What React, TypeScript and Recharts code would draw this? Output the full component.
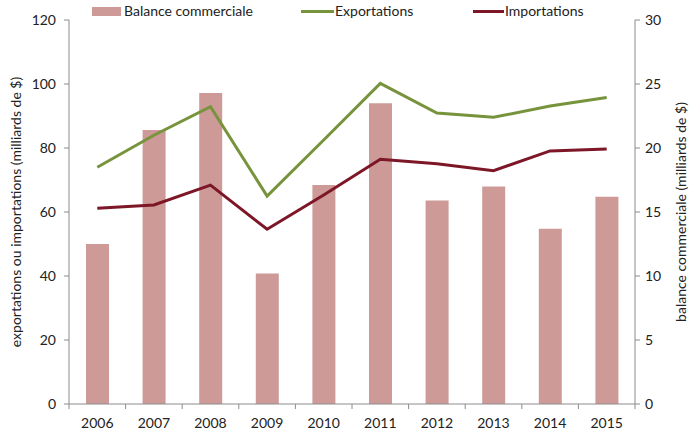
import React from 'react'
import { ComposedChart, Bar, Line, XAxis, YAxis, Legend } from 'recharts'

const years = ['2006', '2007', '2008', '2009', '2010', '2011', '2012', '2013', '2014', '2015']
const balance = [12.5, 21.4, 24.3, 10.2, 17.1, 23.5, 15.9, 17.0, 13.7, 16.2]
const exportations = [74.0, 84.0, 92.9, 65.0, 82.5, 100.2, 90.9, 89.6, 93.1, 95.8]
const importations = [61.2, 62.2, 68.4, 54.6, 65.3, 76.5, 75.1, 72.9, 79.1, 79.7]
const leftTicks = [0, 20, 40, 60, 80, 100, 120]
const rightTicks = [0, 5, 10, 15, 20, 25, 30]

const data = years.map((year, i) => ({
  year,
  balance: balance[i],
  exportations: exportations[i],
  importations: importations[i],
}))

const W = 698
const H = 434
const LEFT_W = 69
const RIGHT_W = 63
const BAND = (W - LEFT_W - RIGHT_W) / years.length

const FONT = 'Lato, "Open Sans", sans-serif'
const AXIS = '#8c8c8c'
const BAR = '#cd9a98'
const GREEN = '#77933c'
const RED = '#7d1727'

const YearTick = (props: any) => {
  const { x, y, payload, index } = props
  const left = x - BAND / 2
  return (
    <g>
      <line x1={left} y1={y} x2={left} y2={y + 5} stroke={AXIS} />
      {index === years.length - 1 && (
        <line x1={left + BAND} y1={y} x2={left + BAND} y2={y + 5} stroke={AXIS} />
      )}
      <text x={x} y={y + 24} textAnchor="middle" fontSize={14} fill="#222" fontFamily={FONT}>
        {payload.value}
      </text>
    </g>
  )
}

const LegendBox = () => (
  <div style={{ position: 'relative', width: W, height: 22, fontFamily: FONT, fontSize: 14, color: '#222' }}>
    <div style={{ position: 'absolute', left: 92, top: 5, width: 29, height: 9, background: BAR }} />
    <span style={{ position: 'absolute', left: 124, top: 0 }}>Balance commerciale</span>
    <div style={{ position: 'absolute', left: 301, top: 8, width: 33, height: 3, background: GREEN }} />
    <span style={{ position: 'absolute', left: 335, top: 0 }}>Exportations</span>
    <div style={{ position: 'absolute', left: 473, top: 8, width: 31, height: 3, background: RED }} />
    <span style={{ position: 'absolute', left: 505, top: 0 }}>Importations</span>
  </div>
)

export default function App() {
  return (
    <div style={{ position: 'absolute', left: 0, top: 0, width: W, height: H, background: '#fff' }}>
      <ComposedChart width={W} height={H} data={data} margin={{ top: 20, right: 0, left: 0, bottom: 0 }}>
        <XAxis
          dataKey="year"
          height={30}
          tick={<YearTick />}
          tickLine={false}
          tickSize={0}
          tickMargin={0}
          stroke={AXIS}
          interval={0}
        />
        <YAxis
          yAxisId="left"
          width={LEFT_W}
          domain={[0, 120]}
          ticks={leftTicks}
          interval={0}
          stroke={AXIS}
          tickSize={5}
          tickMargin={8}
          tick={{ fill: '#222', fontSize: 14, fontFamily: FONT }}
          label={{
            value: 'exportations ou importations (milliards de $)',
            angle: -90,
            position: 'insideLeft',
            dx: 11,
            dy: 0,
            style: { textAnchor: 'middle', fill: '#222', fontSize: 14, fontFamily: FONT },
          }}
        />
        <YAxis
          yAxisId="right"
          orientation="right"
          width={RIGHT_W}
          domain={[0, 30]}
          ticks={rightTicks}
          interval={0}
          stroke={AXIS}
          tickSize={5}
          tickMargin={5}
          tick={{ fill: '#222', fontSize: 14, fontFamily: FONT }}
          label={{
            value: 'balance commerciale (milliards de $)',
            angle: -90,
            position: 'insideRight',
            dx: -12,
            style: { textAnchor: 'middle', fill: '#222', fontSize: 14, fontFamily: FONT },
          }}
        />
        <Legend verticalAlign="middle" layout="horizontal" wrapperStyle={{ top: 2, left: 0, width: W }} content={<LegendBox />} />
        <Bar yAxisId="right" dataKey="balance" fill={BAR} barSize={23} isAnimationActive={false} />
        <Line yAxisId="left" dataKey="exportations" stroke={GREEN} strokeWidth={3} dot={false} type="linear" isAnimationActive={false} />
        <Line yAxisId="left" dataKey="importations" stroke={RED} strokeWidth={3} dot={false} type="linear" isAnimationActive={false} />
      </ComposedChart>
    </div>
  )
}
